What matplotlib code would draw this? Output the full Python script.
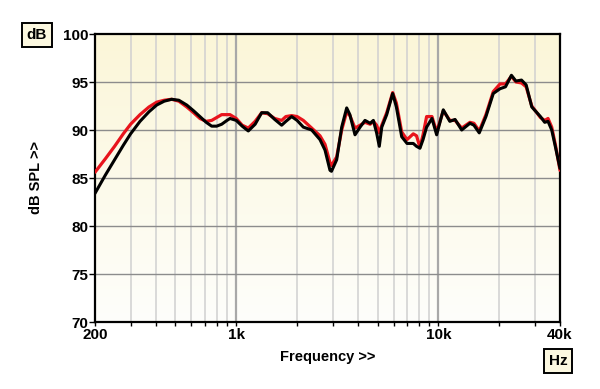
import numpy as np
import matplotlib
matplotlib.use("Agg")
import matplotlib.pyplot as plt
from matplotlib.colors import LinearSegmentedColormap

# frequency points (Hz)
freq = [200, 225, 250, 276, 300, 334, 370, 404, 440, 479, 520, 569, 615, 661, 710,
        756, 800, 847, 900, 931, 1000, 1070, 1147, 1240, 1336, 1430, 1550, 1678, 1760,
        1880, 2000, 2147, 2362, 2596, 2750, 2910, 2960, 3140, 3325, 3520, 3650, 3869,
        4100, 4335, 4600, 4770, 4950, 5103, 5250, 5553, 5943, 6200, 6587, 7000, 7516,
        7800, 8108, 8400, 8750, 9300, 9810, 10580, 11400, 12100, 13050, 14340, 15000,
        15940, 17200, 18700, 20200, 21500, 23000, 24200, 25800, 27200, 29000, 32000,
        33600, 34900, 36400, 38000, 40000]

black_db = [83.4, 85.3, 86.9, 88.4, 89.6, 90.9, 91.9, 92.6, 93.0, 93.2, 93.1, 92.6, 92.0,
            91.4, 90.8, 90.4, 90.4, 90.6, 91.0, 91.2, 91.0, 90.4, 89.9, 90.6, 91.8, 91.8,
            91.1, 90.5, 90.9, 91.4, 91.0, 90.3, 90.0, 89.0, 87.9, 85.8, 85.7, 86.9, 90.3,
            92.3, 91.6, 89.5, 90.3, 91.0, 90.7, 91.0, 89.7, 88.3, 90.3, 91.6, 93.8, 92.4,
            89.3, 88.6, 88.6, 88.3, 88.1, 89.0, 90.3, 91.2, 89.5, 92.1, 90.9, 91.1, 90.0,
            90.7, 90.5, 89.7, 91.4, 93.8, 94.3, 94.5, 95.7, 95.1, 95.2, 94.7, 92.4, 91.4,
            90.8, 90.9, 90.0, 88.2, 86.0]

red_db = [85.6, 87.0, 88.3, 89.6, 90.6, 91.6, 92.4, 92.9, 93.1, 93.2, 93.0, 92.4, 91.8,
          91.2, 90.9, 91.0, 91.3, 91.6, 91.6, 91.6, 91.2, 90.5, 90.2, 90.9, 91.8, 91.7,
          91.2, 91.0, 91.4, 91.5, 91.4, 91.0, 90.2, 89.4, 88.5, 86.6, 86.3, 87.2, 90.0,
          91.9, 91.5, 90.2, 90.5, 90.8, 90.6, 90.9, 90.5, 89.7, 90.5, 91.8, 93.9, 92.8,
          89.8, 89.0, 89.6, 89.4, 88.2, 89.5, 91.4, 91.4, 89.8, 92.0, 91.0, 91.0, 90.2,
          90.8, 90.7, 89.9, 91.6, 94.0, 94.8, 94.8, 95.6, 95.0, 94.9, 94.5, 92.5, 91.3,
          91.0, 91.2, 90.3, 88.4, 85.8]

x_ticks = [200, 1000, 10000, 40000]
x_labels = ["200", "1k", "10k", "40k"]
y_ticks = [70, 75, 80, 85, 90, 95, 100]

plt.rcParams['font.family'] = ['Liberation Sans', 'DejaVu Sans']

fig = plt.figure(figsize=(6.0, 3.89), dpi=100)
ax = fig.add_axes([95 / 600, 1 - 322 / 389, 465 / 600, 288 / 389])

# background gradient (yellow at top fading to white)
cmap = LinearSegmentedColormap.from_list("bg", ["#fefefb", "#fbf6d8"])
grad = np.linspace(0, 1, 256).reshape(-1, 1)
ax.imshow(grad, aspect="auto", cmap=cmap, origin="lower",
          extent=[0, 1, 0, 1], transform=ax.transAxes, zorder=0)

ax.set_xscale("log")
ax.set_xlim(200, 40000)
ax.set_ylim(70, 100)

# grid
minor = [f for dec in (100, 1000, 10000) for f in np.arange(2, 10) * dec
         if 200 < f < 40000 and f not in (1000, 10000)]
for f in minor:
    ax.axvline(f, color="#d0d0d0", lw=1.1, zorder=1)
for f in (1000, 10000):
    ax.axvline(f, color="#a8a8a8", lw=1.6, zorder=1)
for y in y_ticks[1:-1]:
    ax.axhline(y, color="#8c8c8c", lw=1.0, zorder=1)

ax.plot(freq, red_db, color="#e8141c", lw=2.3, zorder=3,
        solid_joinstyle="round", solid_capstyle="round")
ax.plot(freq, black_db, color="#000000", lw=2.2, zorder=4,
        solid_joinstyle="round", solid_capstyle="round")

ax.set_xticks(x_ticks)
ax.set_xticklabels(x_labels)
ax.set_xticks(minor, minor=True)
ax.xaxis.set_minor_formatter(plt.NullFormatter())
ax.set_yticks(y_ticks)
ax.tick_params(axis="x", which="both", length=3, width=1, pad=1,
               labelsize=11)
ax.tick_params(axis="y", length=4, width=1, pad=1, labelsize=11)
for lab in ax.get_xticklabels() + ax.get_yticklabels():
    lab.set_fontweight("bold")

for s in ax.spines.values():
    s.set_linewidth(1.6)
    s.set_color("black")

ax.set_xlabel("Frequency >>", fontsize=10.5, fontweight="bold", labelpad=6)
ax.set_ylabel("dB SPL >>", fontsize=10.5, fontweight="bold", labelpad=14)

box = dict(boxstyle="square,pad=0.3", facecolor="#fcf8e0", edgecolor="black", lw=1.4)
fig.text(37 / 600, 1 - 35 / 389, "dB", ha="center", va="center",
         fontsize=11, fontweight="bold", bbox=box)
fig.text(558 / 600, 1 - 361 / 389, "Hz", ha="center", va="center",
         fontsize=11, fontweight="bold", bbox=box)

fig.savefig("out.png", dpi=100, facecolor="white")
